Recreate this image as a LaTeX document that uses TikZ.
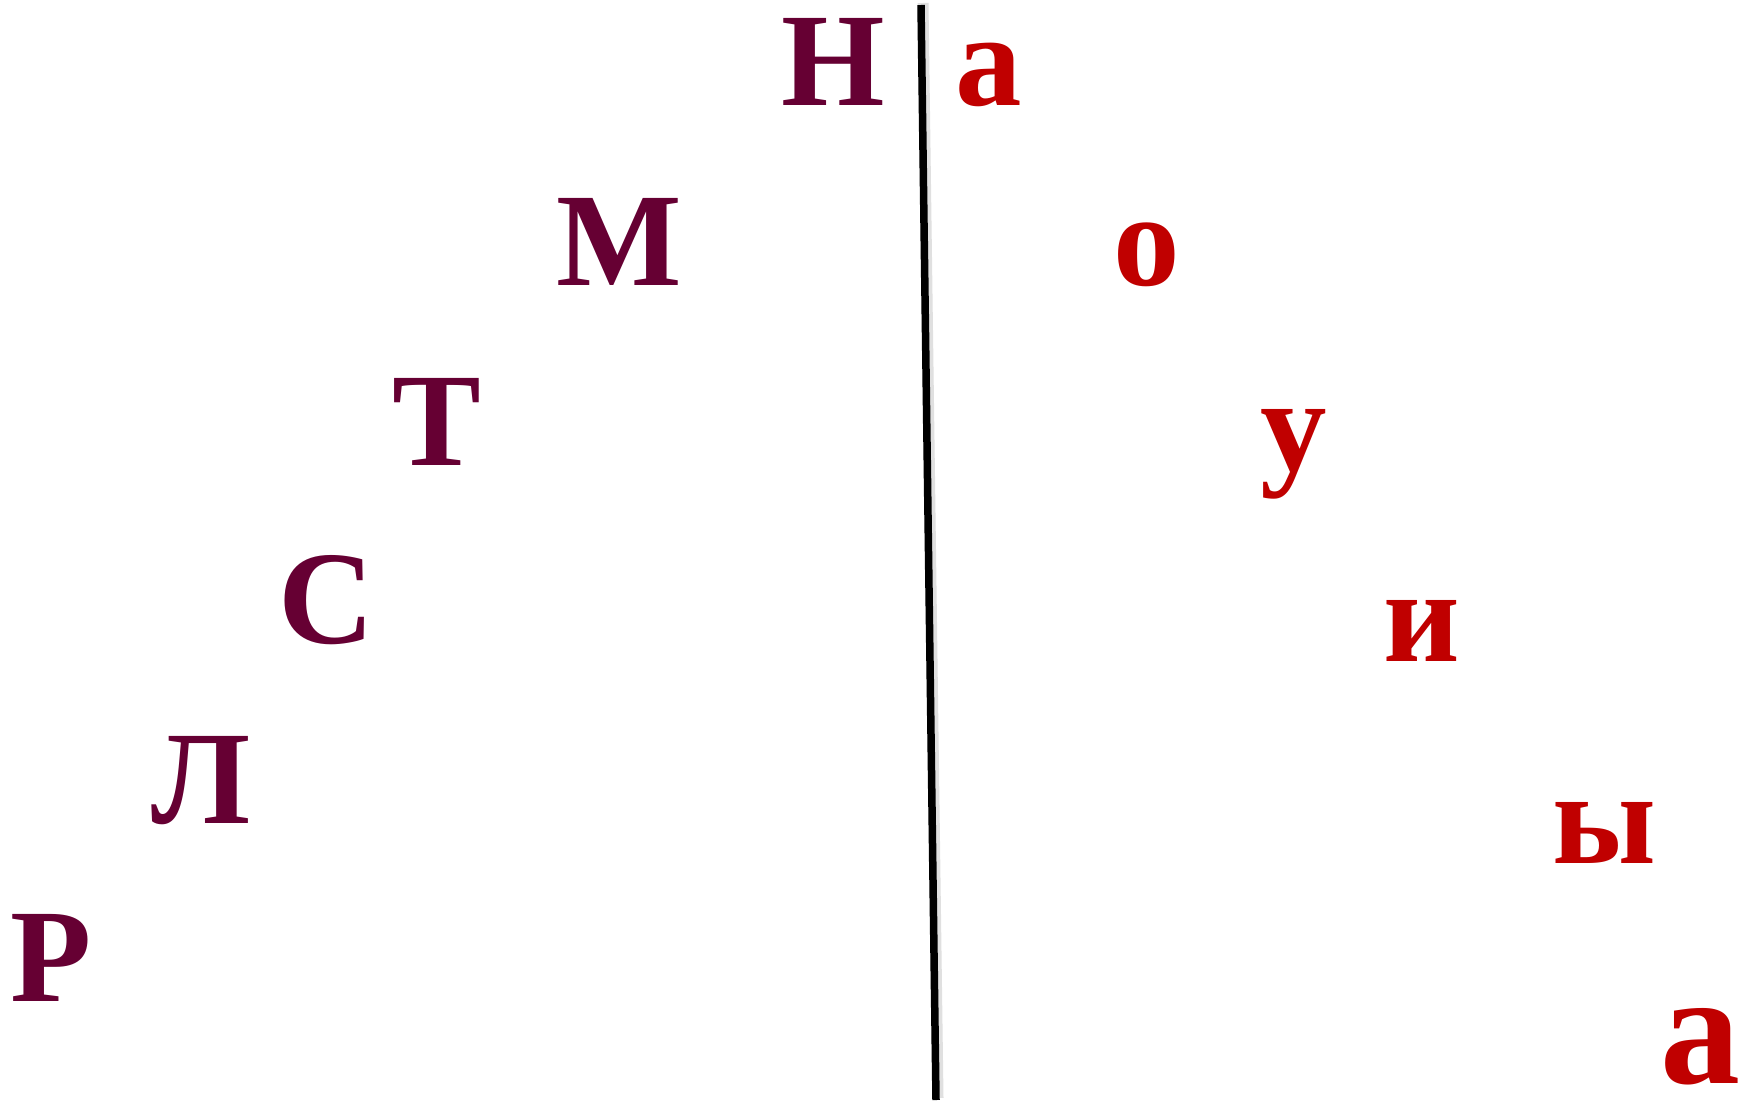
\documentclass[tikz,border=0pt]{standalone}
\usepackage{fontspec}
\setmainfont{Liberation Serif}
\definecolor{maroon}{HTML}{660033}
\definecolor{redl}{HTML}{C00000}
\begin{document}
\begin{tikzpicture}[x=1pt,y=-1pt,
  let/.style={inner sep=0pt,anchor=base,font=\fontsize{133}{133}\selectfont\bfseries},
  lft/.style={let,text=maroon},
  rgt/.style={let,text=redl}]
\useasboundingbox[fill=white] (0,0) rectangle (1760,1105);
% divider with soft shadow
\coordinate (t) at (921,5);
\coordinate (b) at (936,1100);
\draw[line width=11pt,black!12] ([xshift=2pt,yshift=2pt]t) -- ([xshift=2pt,yshift=2pt]b);
\draw[line width=7.5pt,black] (t) -- (b);
% left letters
\node[lft] (n) at (833,106) {Н};
\node[lft] (m) at (619,285) {М};
\node[lft] (tt) at (437,465) {Т};
\node[lft] (s) at (327,643) {С};
\node[lft] (l) at (201,823) {Л};
\node[lft] (r) at (51,1001) {Р};
% right letters
\node[rgt] (a1) at (989,106) {а};
\node[rgt] (o) at (1147,285) {о};
\node[rgt] (u) at (1294,470) {у};
\node[rgt] (i) at (1422,661) {и};
\node[rgt] (y) at (1604,863) {ы};
\node[rgt,font=\fontsize{160}{160}\selectfont\bfseries] (a2) at (1700,1083) {а};
\end{tikzpicture}
\end{document}
